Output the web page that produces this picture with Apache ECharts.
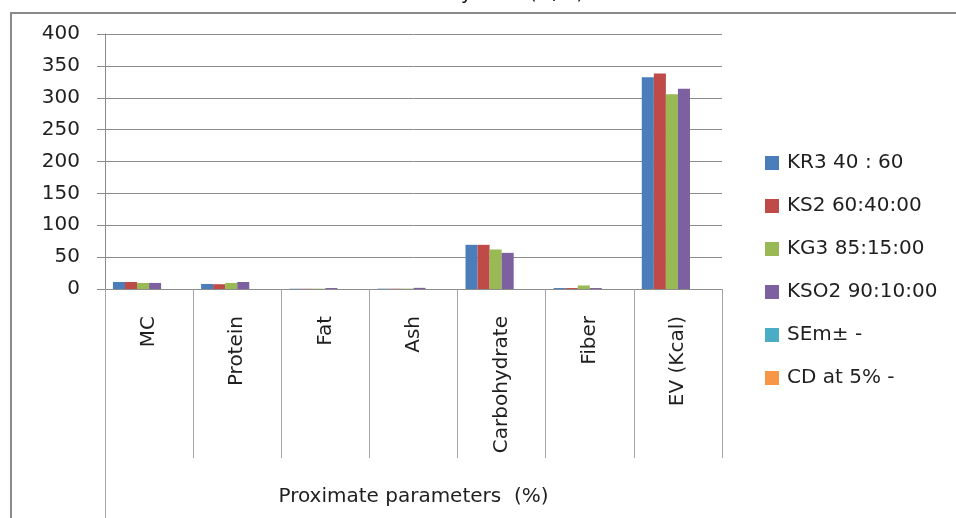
<!DOCTYPE html>
<html>
<head>
<meta charset="utf-8">
<script src="https://cdn.jsdelivr.net/npm/echarts@6/dist/echarts.min.js"></script>
<style>
  html, body { margin: 0; padding: 0; background: #fff; }
  #chart { width: 956px; height: 518px; }
</style>
</head>
<body>
<div id="chart"></div>
<script>
// Proximate composition of the four blends
const categories = ['MC', 'Protein', 'Fat', 'Ash', 'Carbohydrate', 'Fiber', 'EV (Kcal)'];
const seriesNames = ['KR3 40 : 60', 'KS2 60:40:00', 'KG3 85:15:00', 'KSO2 90:10:00', 'SEm\u00b1 -', 'CD at 5% -'];
const kr3  = [11, 7.9, 0.4, 0.5, 69.3, 1.5, 332];
const ks2  = [11, 7.5, 0.4, 0.5, 69.3, 1.5, 338];
const kg3  = [9.5, 9.5, 0.5, 0.6, 62, 5.5, 305.5];
const kso2 = [9.5, 11, 1.5, 1.8, 56.7, 1.5, 314];
const sem  = [null, null, null, null, null, null, null];
const cd5  = [null, null, null, null, null, null, null];
const yTicks = { min: 0, max: 400, interval: 50 };
const titleText = 'CO\u2084 and soybean (w/w)';
const xAxisTitle = 'Proximate parameters  (%)';

const colors = ['#4A7DBA', '#BE4B48', '#98B954', '#7D60A0', '#4BACC6', '#F79646'];
const values = [kr3, ks2, kg3, kso2, sem, cd5];
const FONT = 'DejaVu Sans';
const TEXT = '#1f1f1f';
const LINE = '#8c8c8c';

const chart = echarts.init(document.getElementById('chart'));
chart.setOption({
  animation: false,
  color: colors,
  textStyle: { fontFamily: FONT },
  grid: { left: 105, right: 234, top: 34, bottom: 229, containLabel: false },
  legend: {
    orient: 'vertical',
    left: 765,
    top: 153,
    padding: 0,
    itemWidth: 14,
    itemHeight: 14,
    itemGap: 23,
    icon: 'rect',
    textStyle: { fontFamily: FONT, fontSize: 20, color: TEXT, padding: [0, 0, 0, 3] },
    data: seriesNames
  },
  xAxis: {
    type: 'category',
    data: categories,
    boundaryGap: true,
    axisLine: { show: true, lineStyle: { color: LINE, width: 1 } },
    axisTick: { show: true, length: 169, lineStyle: { color: '#a6a6a6', width: 1 } },
    axisLabel: { rotate: 90, margin: 27, fontFamily: FONT, fontSize: 20, color: TEXT, interval: 0 },
    name: xAxisTitle,
    nameLocation: 'middle',
    nameGap: 198,
    nameTextStyle: { fontFamily: FONT, fontSize: 20, color: TEXT }
  },
  yAxis: {
    type: 'value',
    min: yTicks.min,
    max: yTicks.max,
    interval: yTicks.interval,
    axisLine: { show: true, lineStyle: { color: LINE, width: 1 } },
    axisTick: { show: true, inside: false, length: 8, lineStyle: { color: LINE } },
    axisLabel: { margin: 25, fontFamily: FONT, fontSize: 20, color: TEXT },
    splitLine: { show: true, lineStyle: { color: LINE, width: 1 } }
  },
  series: seriesNames.map((name, i) => ({
    name: name,
    type: 'bar',
    data: values[i],
    barGap: '0%',
    barCategoryGap: '18%',
    itemStyle: { color: colors[i] }
  })),
  graphic: [
    {
      type: 'rect',
      shape: { x: 11, y: 13, width: 1000, height: 600 },
      style: { fill: 'none', stroke: '#8a8a8a', lineWidth: 2 },
      silent: true
    },
    {
      type: 'line',
      shape: { x1: 105.5, y1: 289, x2: 105.5, y2: 518 },
      style: { stroke: '#a6a6a6', lineWidth: 1 },
      silent: true
    },
    {
      type: 'text',
      x: 467,
      y: 4,
      style: {
        text: titleText,
        font: '20px "DejaVu Sans"',
        fill: TEXT,
        align: 'center',
        verticalAlign: 'bottom'
      },
      silent: true
    }
  ]
});
</script>
</body>
</html>
